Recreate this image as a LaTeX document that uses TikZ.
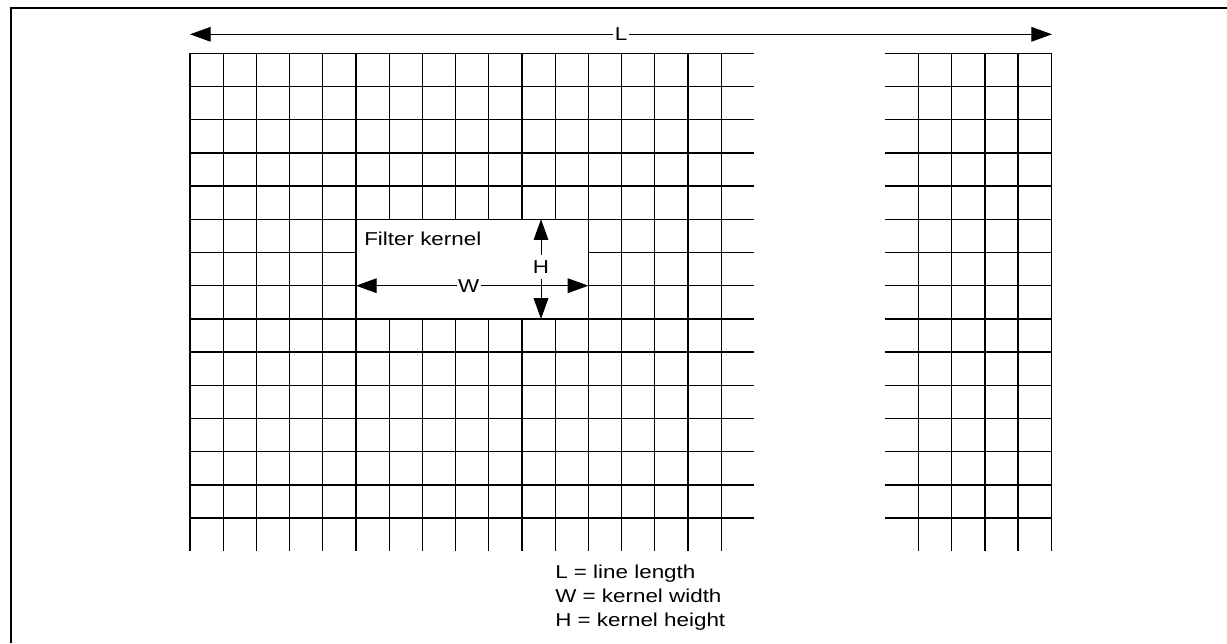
\documentclass[tikz,border=0pt]{standalone}
\usepackage{fontspec}
\setmainfont{Liberation Sans}[FakeStretch=1.2]
\usetikzlibrary{arrows.meta}
\begin{document}
\begin{tikzpicture}[x=0.75pt,y=-0.75pt,
  gridline/.style={line width=1pt,draw=black},
  dimarrow/.style={line width=0.7pt,{Triangle[length=15.5pt,width=11pt]}-{Triangle[length=15.5pt,width=11pt]}},
  lbl/.style={fill=white,inner xsep=1pt,inner ysep=1pt,font=\fontsize{14}{17}\selectfont},
  txt/.style={inner sep=0pt,anchor=base west,font=\fontsize{14}{17}\selectfont},
  frameline/.style={line width=1.5pt}]
\useasboundingbox (0,0) rectangle (1227,643);
% frame
\coordinate (fTR) at (1227,7.5);
\coordinate (fTL) at (11,7.5);
\coordinate (fBL) at (11,643);
\draw[frameline] (fTR) -- (fTL) -- (fBL);
% left grid
\foreach \k in {0,...,16}
  \draw[gridline] ({190+\k*33.2},53.3) -- ({190+\k*33.2},551);
\foreach \k in {0,...,14}
  \draw[gridline] (190,{53.3+\k*33.2}) -- (754,{53.3+\k*33.2});
% right grid
\foreach \j in {1,...,5}
  \draw[gridline] ({885.3+\j*33.2},53.3) -- ({885.3+\j*33.2},551);
\foreach \k in {0,...,14}
  \draw[gridline] (885.3,{53.3+\k*33.2}) -- (1051.3,{53.3+\k*33.2});
% kernel box
\node (kernel) [gridline, fill=white, inner sep=0pt, minimum width=174.3pt, minimum height=74.7pt] at (472.2,269.1) {};
\node (ktext) [txt] at (364,245.5) {Filter kernel};
% L arrow
\coordinate (Ll) at (190,34.3);
\coordinate (Lr) at (1052,34.3);
\draw[dimarrow] (Ll) -- node[lbl] (L) {L} (Lr);
% W arrow
\coordinate (Wl) at (356,285.7);
\coordinate (Wr) at (588.4,285.7);
\draw[dimarrow] (Wl) -- node[lbl, pos=0.485] (W) {W} (Wr);
% H arrow
\coordinate (Ht) at (541,219.3);
\coordinate (Hb) at (541,318.9);
\draw[dimarrow] (Ht) -- node[lbl, pos=0.48, inner ysep=4pt] (H) {H} (Hb);
% legend
\node (leg1) [txt] at (555,578) {L = line length};
\node (leg2) [txt] at (555,602) {W = kernel width};
\node (leg3) [txt] at (555,626) {H = kernel height};
\end{tikzpicture}
\end{document}
